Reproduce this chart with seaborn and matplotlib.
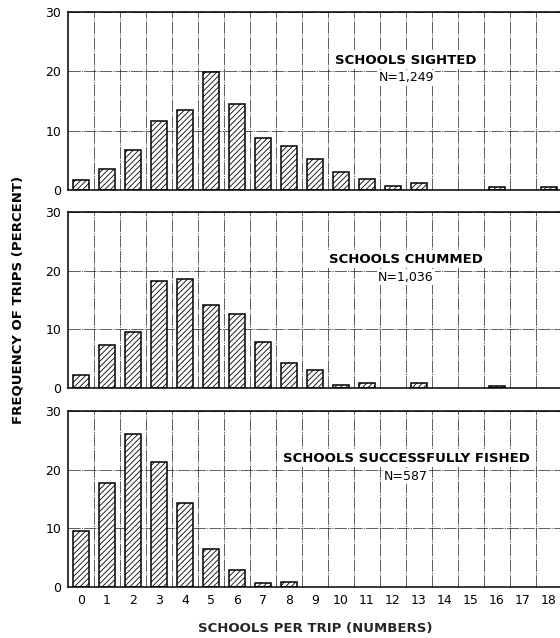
import matplotlib
matplotlib.use("Agg")
import matplotlib.pyplot as plt
import seaborn as sns
import numpy as np
from matplotlib.ticker import FixedLocator

# ---- data ----
schools_per_trip = list(range(19))
tick_labels = [str(c) for c in schools_per_trip]
sighted = [1.7, 3.5, 6.8, 11.7, 13.4, 19.9, 14.5, 8.7, 7.5, 5.3, 3.0, 1.8, 0.7, 1.1, 0, 0, 0.5, 0, 0.5]
chummed = [2.2, 7.4, 9.5, 18.3, 18.6, 14.1, 12.6, 7.9, 4.3, 3.0, 0.5, 0.9, 0, 0.9, 0, 0, 0.3, 0, 0]
fished = [9.6, 17.8, 26.0, 21.3, 14.3, 6.5, 2.9, 0.7, 0.8, 0, 0, 0, 0, 0, 0, 0, 0, 0, 0]
panel_titles = ["SCHOOLS SIGHTED", "SCHOOLS CHUMMED", "SCHOOLS SUCCESSFULLY FISHED"]
panel_counts = ["N=1,249", "N=1,036", "N=587"]
y_ticks = [0, 10, 20, 30]
y_label = "FREQUENCY OF TRIPS (PERCENT)"
x_label = "SCHOOLS PER TRIP (NUMBERS)"

sns.set_theme(style="white")
plt.rcParams['font.family'] = ['DejaVu Sans']
plt.rcParams['hatch.linewidth'] = 0.6
plt.rcParams['text.color'] = 'black'
plt.rcParams['xtick.color'] = 'black'
plt.rcParams['ytick.color'] = 'black'

W, H = 560, 638
fig = plt.figure(figsize=(W / 100, H / 100), dpi=100)

# panel pixel extents (top, bottom)
panels_px = [(12, 190), (212, 388), (411, 587)]
left_px, right_px = 68, 562

grid_style = dict(color="black", linewidth=0.55, linestyle=(0, (16, 1.5, 1.5, 1.5)), alpha=0.8)

series = [sighted, chummed, fished]
for i, (vals, (top, bot)) in enumerate(zip(series, panels_px)):
    ax = fig.add_axes([left_px / W, 1 - bot / H, (right_px - left_px) / W, (bot - top) / H])
    sns.barplot(x=schools_per_trip, y=vals, order=schools_per_trip, ax=ax,
                color="white", edgecolor="black", linewidth=1.1,
                width=0.58, hatch="//////", saturation=1)
    for p in ax.patches:
        p.set_facecolor("white")
        p.set_edgecolor("black")
        if p.get_height() == 0:
            p.set_visible(False)
    ax.set_xlim(-0.5, 18.5)
    ax.set_ylim(0, 30)
    ax.set_yticks(y_ticks)
    ax.set_yticklabels([str(t) for t in y_ticks], fontsize=9)
    ax.xaxis.set_minor_locator(FixedLocator(np.arange(0.5, 18.5, 1.0)))
    ax.grid(False)
    ax.xaxis.grid(True, which="minor", **grid_style)
    ax.yaxis.grid(True, which="major", **grid_style)
    ax.set_axisbelow(True)
    ax.tick_params(axis="both", which="both", length=0, pad=5)
    for side in ["left", "top", "bottom"]:
        ax.spines[side].set_visible(True)
        ax.spines[side].set_color("black")
        ax.spines[side].set_linewidth(1.1)
    ax.spines["right"].set_visible(False)
    ax.set_ylabel("")
    ax.set_xlabel("")
    if i < 2:
        ax.set_xticklabels([])
    else:
        ax.set_xticks(range(19))
        ax.set_xticklabels(tick_labels, fontsize=9)
        ax.set_xlabel(x_label, fontsize=9.5, fontweight="bold", labelpad=11)
    ax.text(12.5, 21.9, panel_titles[i], ha="center", va="center", fontsize=9.5,
            fontweight="bold",
            bbox=dict(facecolor="white", edgecolor="none", pad=1.5), zorder=5)
    ax.text(12.5, 18.9, panel_counts[i], ha="center", va="center", fontsize=9,
            bbox=dict(facecolor="white", edgecolor="none", pad=1.0), zorder=5)

fig.text(0.032, 0.53, y_label, rotation=90, ha="center", va="center",
         fontsize=9.5, fontweight="bold")

fig.savefig("out.png", dpi=100)
